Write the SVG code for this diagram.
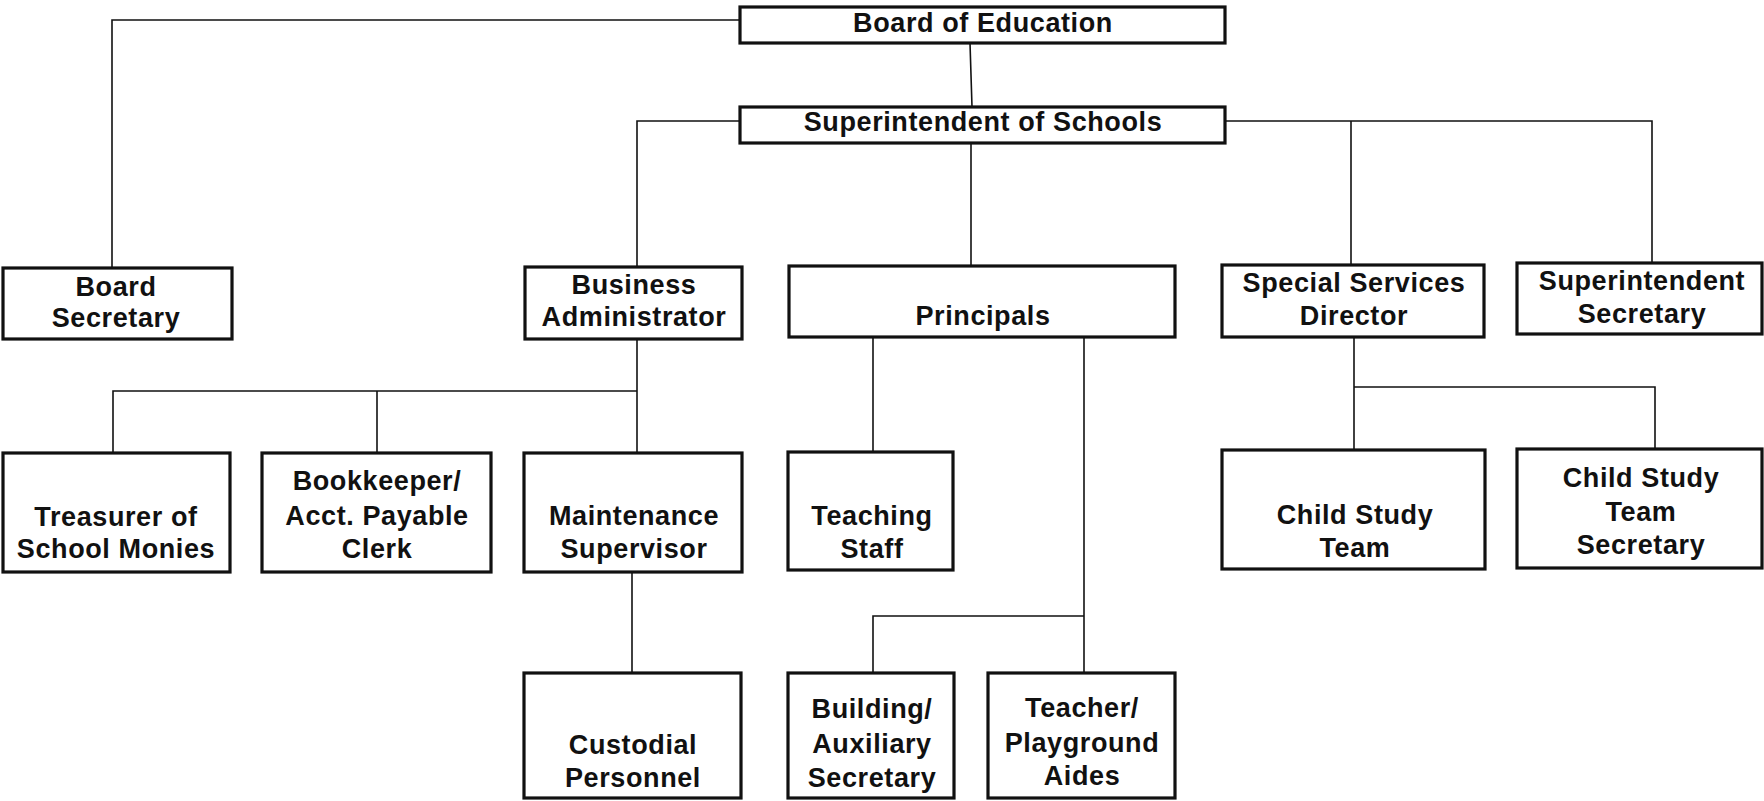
<svg xmlns="http://www.w3.org/2000/svg" width="1764" height="801" viewBox="0 0 1764 801">
  <style>
    .box { fill: #ffffff; stroke: #111111; stroke-width: 3.2; }
    .link { fill: none; stroke: #111111; stroke-width: 1.6; }
    text { font-family: "Liberation Sans", Arial, Helvetica, sans-serif; font-weight: bold; font-size: 27px; letter-spacing: 0.6px; fill: #111111; text-anchor: middle; }
  </style>
  <rect width="1764" height="801" fill="#ffffff"/>

  <!-- reporting lines -->
  <g id="connectors">
    <path class="link" d="M740,20 H112 V268"/>
    <path class="link" d="M970,43 L972,107"/>
    <path class="link" d="M740,121 H637 V268"/>
    <path class="link" d="M971,143 V266"/>
    <path class="link" d="M1225,121 H1652 V263"/>
    <path class="link" d="M1351,121 V265"/>
    <path class="link" d="M637,340 V453"/>
    <path class="link" d="M637,391 H113 V453"/>
    <path class="link" d="M377,391 V453"/>
    <path class="link" d="M632,572 V673"/>
    <path class="link" d="M873,337 V452"/>
    <path class="link" d="M1084,337 V673"/>
    <path class="link" d="M1084,616 H873 V673"/>
    <path class="link" d="M1354,337 V450"/>
    <path class="link" d="M1354,387 H1655 V449"/>
  </g>

  <g id="board-of-education">
    <rect class="box" x="740" y="7" width="485" height="36"/>
    <text x="983" y="32">Board of Education</text>
  </g>

  <g id="superintendent-of-schools">
    <rect class="box" x="740" y="107" width="485" height="36"/>
    <text x="983" y="131">Superintendent of Schools</text>
  </g>

  <g id="board-secretary">
    <rect class="box" x="3" y="268" width="229" height="71"/>
    <text x="116" y="296">Board</text>
    <text x="116" y="327">Secretary</text>
  </g>

  <g id="business-administrator">
    <rect class="box" x="525" y="267" width="217" height="72"/>
    <text x="634" y="294">Business</text>
    <text x="634" y="326">Administrator</text>
  </g>

  <g id="principals">
    <rect class="box" x="789" y="266" width="386" height="71"/>
    <text x="983" y="325">Principals</text>
  </g>

  <g id="special-services-director">
    <rect class="box" x="1222" y="265" width="262" height="72"/>
    <text x="1354" y="292">Special Services</text>
    <text x="1354" y="325">Director</text>
  </g>

  <g id="superintendent-secretary">
    <rect class="box" x="1517" y="263" width="245" height="71"/>
    <text x="1642" y="290">Superintendent</text>
    <text x="1642" y="323">Secretary</text>
  </g>

  <g id="treasurer">
    <rect class="box" x="3" y="453" width="227" height="119"/>
    <text x="116" y="526">Treasurer of</text>
    <text x="116" y="558">School Monies</text>
  </g>

  <g id="bookkeeper">
    <rect class="box" x="262" y="453" width="229" height="119"/>
    <text x="377" y="490">Bookkeeper/</text>
    <text x="377" y="525">Acct. Payable</text>
    <text x="377" y="558">Clerk</text>
  </g>

  <g id="maintenance-supervisor">
    <rect class="box" x="524" y="453" width="218" height="119"/>
    <text x="634" y="525">Maintenance</text>
    <text x="634" y="558">Supervisor</text>
  </g>

  <g id="teaching-staff">
    <rect class="box" x="788" y="452" width="165" height="118"/>
    <text x="872" y="525">Teaching</text>
    <text x="872" y="558">Staff</text>
  </g>

  <g id="child-study-team">
    <rect class="box" x="1222" y="450" width="263" height="119"/>
    <text x="1355" y="524">Child Study</text>
    <text x="1355" y="557">Team</text>
  </g>

  <g id="child-study-team-secretary">
    <rect class="box" x="1517" y="449" width="245" height="119"/>
    <text x="1641" y="487">Child Study</text>
    <text x="1641" y="521">Team</text>
    <text x="1641" y="554">Secretary</text>
  </g>

  <g id="custodial-personnel">
    <rect class="box" x="524" y="673" width="217" height="125"/>
    <text x="633" y="754">Custodial</text>
    <text x="633" y="787">Personnel</text>
  </g>

  <g id="building-secretary">
    <rect class="box" x="788" y="673" width="166" height="125"/>
    <text x="872" y="718">Building/</text>
    <text x="872" y="753">Auxiliary</text>
    <text x="872" y="787">Secretary</text>
  </g>

  <g id="teacher-aides">
    <rect class="box" x="988" y="673" width="187" height="125"/>
    <text x="1082" y="717">Teacher/</text>
    <text x="1082" y="752">Playground</text>
    <text x="1082" y="785">Aides</text>
  </g>
</svg>
